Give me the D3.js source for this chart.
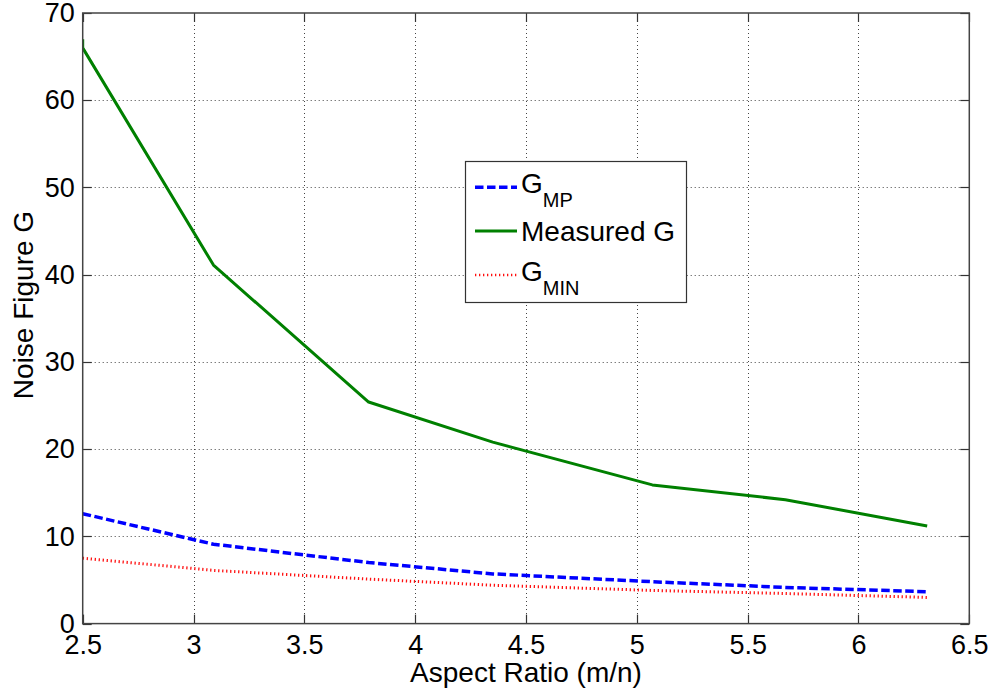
<!DOCTYPE html>
<html>
<head>
<meta charset="utf-8">
<script src="https://cdn.jsdelivr.net/npm/d3@7/dist/d3.min.js"></script>
<style>
  html, body { margin: 0; padding: 0; background: #fff; }
  svg { display: block; }
  text { font-family: "Liberation Sans", Arial, Helvetica, sans-serif; fill: #000; }
</style>
</head>
<body>
<svg id="chart" width="996" height="696"></svg>
<script>
// Aspect ratio (m/n) samples shared by the model curves
const aspectRatio = [2.5, 3.09, 3.79, 4.35, 5.07, 5.67, 6.31];
// Modelled noise figures
const gMP  = [12.6, 9.1, 7.0, 5.7, 4.8, 4.15, 3.65];
const gMIN = [7.5, 6.1, 5.1, 4.4, 3.8, 3.45, 3.0];
// Measured noise figure (first sample repeated at the same ratio)
const measuredRatio = [2.5, 2.5, 3.09, 3.79, 4.35, 5.07, 5.67, 6.31];
const measuredG     = [67.0, 66.0, 41.1, 25.4, 20.8, 15.9, 14.2, 11.2];

const xTicks = [2.5, 3, 3.5, 4, 4.5, 5, 5.5, 6, 6.5];
const yTicks = [0, 10, 20, 30, 40, 50, 60, 70];

const seriesNames = ["G_MP", "Measured G", "G_MIN"];

const svg = d3.select("#chart");
const pL = 82.7, pR = 969.3, pT = 13, pB = 623.6;

const x = d3.scaleLinear().domain([2.5, 6.5]).range([pL, pR]);
const y = d3.scaleLinear().domain([0, 70]).range([pB, pT]);

svg.append("rect").attr("width", 996).attr("height", 696).attr("fill", "#fff");

// dotted grid
const grid = svg.append("g").attr("stroke", "#444").attr("stroke-width", 1)
  .attr("stroke-dasharray", "1,3").attr("fill", "none");
xTicks.slice(1, -1).forEach(v => {
  grid.append("line").attr("x1", Math.round(x(v)) + 0.5).attr("x2", Math.round(x(v)) + 0.5)
    .attr("y1", pT).attr("y2", pB);
});
yTicks.slice(1, -1).forEach(v => {
  grid.append("line").attr("y1", Math.round(y(v)) + 0.5).attr("y2", Math.round(y(v)) + 0.5)
    .attr("x1", pL).attr("x2", pR);
});

// series lines
const lineOf = (xs, ys) => d3.line().x((d, i) => x(xs[i])).y(d => y(d))(ys);

svg.append("clipPath").attr("id", "plotClip")
  .append("rect").attr("x", pL).attr("y", pT).attr("width", pR - pL).attr("height", pB - pT);

const plot = svg.append("g").attr("clip-path", "url(#plotClip)");

const styles = [
  { color: "#0000ff", width: 3.5, dash: "8.5,3.5" },
  { color: "#008000", width: 3, dash: null },
  { color: "#ff1010", width: 3, dash: "1.3,2.7" }
];

plot.append("path").attr("d", lineOf(measuredRatio, measuredG))
  .attr("fill", "none").attr("stroke", styles[1].color).attr("stroke-width", styles[1].width)
  .attr("stroke-linejoin", "round");
plot.append("path").attr("d", lineOf(aspectRatio, gMP))
  .attr("fill", "none").attr("stroke", styles[0].color).attr("stroke-width", styles[0].width)
  .attr("stroke-dasharray", styles[0].dash);
plot.append("path").attr("d", lineOf(aspectRatio, gMIN))
  .attr("fill", "none").attr("stroke", styles[2].color).attr("stroke-width", styles[2].width)
  .attr("stroke-dasharray", styles[2].dash);

// tick labels via d3 axes
const xAxis = svg.append("g").attr("transform", `translate(0,${pB})`)
  .call(d3.axisBottom(x).tickValues(xTicks).tickSize(0).tickPadding(11).tickFormat(d3.format("")));
const yAxis = svg.append("g").attr("transform", `translate(${pL},0)`)
  .call(d3.axisLeft(y).tickValues(yTicks).tickSize(0).tickPadding(8).tickFormat(d3.format("")));
[xAxis, yAxis].forEach(a => {
  a.select(".domain").remove();
  a.selectAll("text").attr("font-size", 27).attr("fill", "#000")
    .attr("font-family", "'Liberation Sans', Arial, sans-serif");
});

// inward tick marks on all four sides
const ticks = svg.append("g").attr("stroke", "#333").attr("stroke-width", 1.2);
const tl = 9;
xTicks.forEach(v => {
  const px = Math.round(x(v)) + 0.5;
  ticks.append("line").attr("x1", px).attr("x2", px).attr("y1", pB).attr("y2", pB - tl);
  ticks.append("line").attr("x1", px).attr("x2", px).attr("y1", pT).attr("y2", pT + tl);
});
yTicks.forEach(v => {
  const py = Math.round(y(v)) + 0.5;
  ticks.append("line").attr("y1", py).attr("y2", py).attr("x1", pL).attr("x2", pL + tl);
  ticks.append("line").attr("y1", py).attr("y2", py).attr("x1", pR).attr("x2", pR - tl);
});

// plot frame
svg.append("rect").attr("x", pL).attr("y", pT).attr("width", pR - pL).attr("height", pB - pT)
  .attr("fill", "none").attr("stroke", "#444").attr("stroke-width", 1.5);

// axis titles
svg.append("text").attr("x", (pL + pR) / 2).attr("y", 682)
  .attr("text-anchor", "middle").attr("font-size", 28).text("Aspect Ratio (m/n)");
svg.append("text").attr("transform", "translate(33,305) rotate(-90)")
  .attr("text-anchor", "middle").attr("font-size", 28).text("Noise Figure G");

// legend
const lg = svg.append("g");
lg.append("rect").attr("x", 465.5).attr("y", 161.5).attr("width", 221).attr("height", 141)
  .attr("fill", "#fff").attr("stroke", "#333").attr("stroke-width", 1.2);
const rows = [187.3, 231, 275];
[0, 1, 2].forEach((k, i) => {
  const s = styles[k];
  lg.append("line").attr("x1", 475).attr("x2", 517).attr("y1", rows[i]).attr("y2", rows[i])
    .attr("stroke", s.color).attr("stroke-width", k === 2 ? 2.5 : s.width)
    .attr("stroke-dasharray", s.dash);
  const t = lg.append("text").attr("x", 521).attr("y", rows[i] + 10).attr("font-size", 28);
  const name = seriesNames[k];
  if (name.includes("_")) {
    const [base, sub] = name.split("_");
    t.append("tspan").attr("y", rows[i] + 6).text(base);
    t.append("tspan").attr("font-size", 20).attr("y", rows[i] + 20).text(sub);
  } else {
    t.text(name);
  }
});
</script>
</body>
</html>
